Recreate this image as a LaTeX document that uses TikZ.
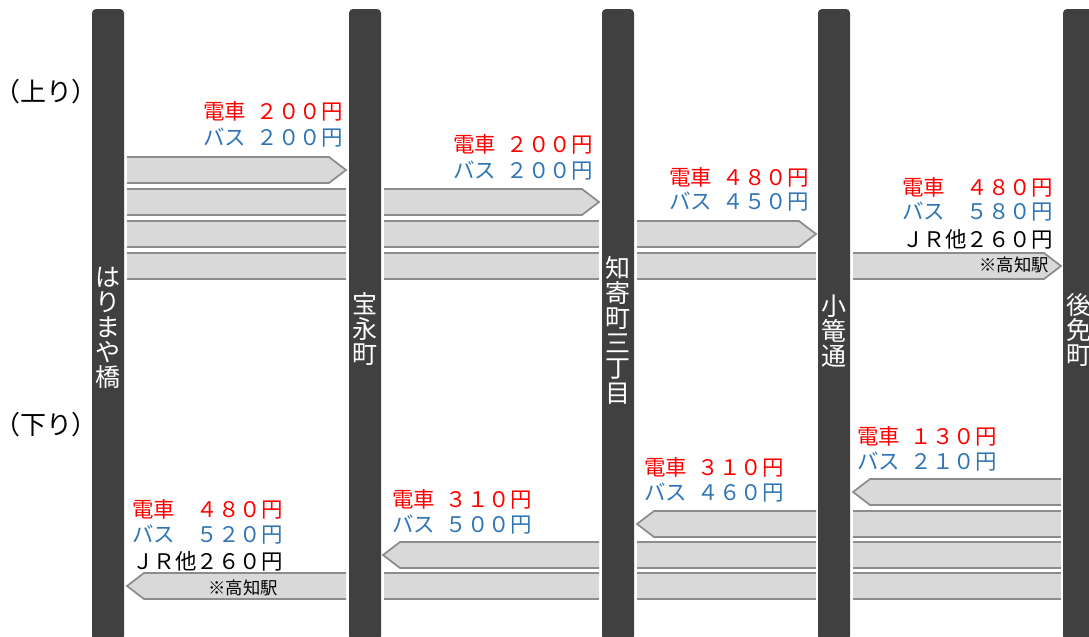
\documentclass[tikz,border=0pt]{standalone}
\usepackage{fontspec}
\setmainfont{Noto Sans CJK JP}
\definecolor{barc}{HTML}{404040}
\definecolor{lanec}{HTML}{D9D9D9}
\definecolor{edgec}{HTML}{8C8C8C}
\definecolor{busc}{HTML}{2E75B6}
\definecolor{trainc}{HTML}{FF0000}
\tikzset{
 stationbar/.style={fill=barc, rounded corners=3pt},
 lanefill/.style={fill=lanec},
 laneedge/.style={draw=edgec, line width=1.3pt},
 price/.style={inner sep=0pt, font=\fontsize{16.1pt}{19.5pt}\selectfont},
 train/.style={price, text=trainc},
 bus/.style={price, text=busc},
 jr/.style={price, text=black},
 station/.style={text=white, align=center, inner sep=0pt, font=\fontsize{18.75pt}{18.75pt}\selectfont},
 note/.style={inner sep=0pt, font=\fontsize{13pt}{13pt}\selectfont},
 dirlabel/.style={inner sep=0pt, font=\fontsize{19.5pt}{19.5pt}\selectfont}
}
\newcommand\lanerect[3]{%
 \fill[lanefill] (#1,#3) rectangle (#2,#3+26);
 \draw[laneedge] (#1,#3) -- (#2,#3) (#1,#3+26) -- (#2,#3+26);}
\newcommand\lanerarrow[3]{%
 \fill[lanefill] (#1,#3) -- (#2-17,#3) -- (#2,#3+13) -- (#2-17,#3+26) -- (#1,#3+26) -- cycle;
 \draw[laneedge] (#1,#3) -- (#2-17,#3) -- (#2,#3+13) -- (#2-17,#3+26) -- (#1,#3+26);}
\newcommand\lanelarrow[3]{%
 \fill[lanefill] (#2,#3) -- (#1+17,#3) -- (#1,#3+13) -- (#1+17,#3+26) -- (#2,#3+26) -- cycle;
 \draw[laneedge] (#2,#3) -- (#1+17,#3) -- (#1,#3+13) -- (#1+17,#3+26) -- (#2,#3+26);}
\begin{document}
\begin{tikzpicture}[x=0.75pt,y=-0.75pt]
\useasboundingbox (0,0) rectangle (1089,636);
\clip (0,0) rectangle (1089,636);
% station bars
\path[stationbar] (92,9) rectangle (124,640);
\path[stationbar] (349,9) rectangle (381,640);
\path[stationbar] (602,9) rectangle (634,640);
\path[stationbar] (818,9) rectangle (850,640);
\path[stationbar] (1063,9) rectangle (1095,640);
% station names
\node[station] (s1) at (108,328) {は\\り\\ま\\や\\橋};
\node[station] (s2) at (365,329) {宝\\永\\町};
\node[station] (s3) at (618,330) {知\\寄\\町\\三\\丁\\目};
\node[station] (s4) at (834,331) {小\\篭\\通};
\node[station] (s5) at (1079,330) {後\\免\\町};
% direction labels
\node[dirlabel] (up) at (46,92) {（上り）};
\node[dirlabel] (down) at (46,425) {（下り）};
% upper lanes
\lanerarrow{127}{346}{157}
\lanerect{127}{346}{189}
\lanerect{127}{346}{221}
\lanerect{127}{346}{253}
\lanerarrow{384}{599}{189}
\lanerect{384}{599}{221}
\lanerect{384}{599}{253}
\lanerarrow{637}{816}{221}
\lanerect{637}{816}{253}
\lanerarrow{853}{1061}{253}
% lower lanes
\lanelarrow{853}{1061}{479}
\lanerect{853}{1061}{511}
\lanerect{853}{1061}{542}
\lanerect{853}{1061}{573}
\lanelarrow{637}{816}{511}
\lanerect{637}{816}{542}
\lanerect{637}{816}{573}
\lanelarrow{383}{599}{542}
\lanerect{384}{599}{573}
\lanelarrow{127}{346}{573}
% notes
\node[note, anchor=east] (n1) at (1049,265) {※高知駅};
\node[note] (n2) at (243,588) {※高知駅};
% upper prices
\node[train, anchor=east] (u1t) at (343,111) {電車\hspace{0.5em}２００円};
\node[bus, anchor=east] (u1b) at (343,138) {バス\hspace{0.5em}２００円};
\node[train, anchor=east] (u2t) at (593,144) {電車\hspace{0.5em}２００円};
\node[bus, anchor=east] (u2b) at (593,171) {バス\hspace{0.5em}２００円};
\node[train, anchor=east] (u3t) at (809,177) {電車\hspace{0.5em}４８０円};
\node[bus, anchor=east] (u3b) at (809,202) {バス\hspace{0.5em}４５０円};
\node[train, anchor=east] (u4t) at (1053,187) {電車　４８０円};
\node[bus, anchor=east] (u4b) at (1053,212) {バス　５８０円};
\node[jr, anchor=east] (u4j) at (1053,239) {ＪＲ他２６０円};
% lower prices
\node[train, anchor=west] (d4t) at (857,436) {電車\hspace{0.5em}１３０円};
\node[bus, anchor=west] (d4b) at (857,462) {バス\hspace{0.5em}２１０円};
\node[train, anchor=west] (d3t) at (644,467) {電車\hspace{0.5em}３１０円};
\node[bus, anchor=west] (d3b) at (644,493) {バス\hspace{0.5em}４６０円};
\node[train, anchor=west] (d2t) at (392,499) {電車\hspace{0.5em}３１０円};
\node[bus, anchor=west] (d2b) at (392,525) {バス\hspace{0.5em}５００円};
\node[train, anchor=west] (d1t) at (132,509) {電車　４８０円};
\node[bus, anchor=west] (d1b) at (132,535) {バス　５２０円};
\node[jr, anchor=west] (d1j) at (132,561) {ＪＲ他２６０円};
\end{tikzpicture}
\end{document}
